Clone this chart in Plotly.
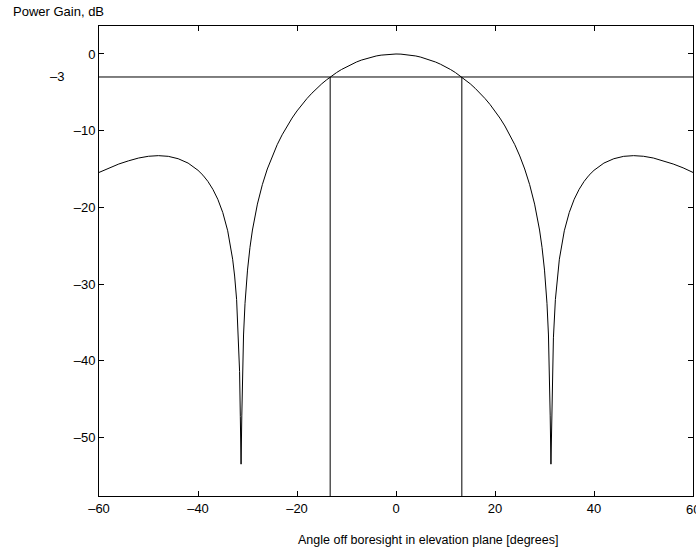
import plotly.graph_objects as go

# Half-pattern (angle >= 0), mirrored for negative angles
angle_pos = [0, 1, 2, 3, 4, 5, 6, 7, 8, 9, 10, 11, 12, 13.3, 14, 15, 16, 17, 18, 19, 20,
             21, 22, 23, 24, 25, 26, 27, 28, 29, 29.5, 30, 30.5, 30.8, 31.0, 31.15, 31.3,
             31.45, 31.6, 31.8, 32.2, 32.6, 33, 34, 35, 36, 37, 38, 39, 40, 42, 44, 46,
             48, 50, 52, 54, 56, 58, 60]
gain_pos = [0.0, -0.02, -0.07, -0.15, -0.26, -0.41, -0.59, -0.80, -1.05, -1.34, -1.66,
            -2.02, -2.42, -3.01, -3.36, -3.89, -4.48, -5.12, -5.82, -6.59, -7.43,
            -8.36, -9.39, -10.54, -11.83, -13.30, -15.00, -17.04, -19.58, -22.96, -25.22,
            -28.19, -32.52, -36.65, -41.1, -47.2, -53.5, -47.3, -41.4, -37.02, -32.03,
            -28.96, -26.77, -23.06, -20.67, -18.95, -17.65, -16.62, -15.81, -15.17,
            -14.23, -13.66, -13.35, -13.26, -13.34, -13.57, -13.93, -14.35, -14.85, -15.45]

angle = [-a for a in reversed(angle_pos[1:])] + angle_pos
gain = list(reversed(gain_pos[1:])) + gain_pos

half_power_db = -3
beamwidth_edges = [-13.3, 13.3]

x_ticks = [-60, -40, -20, 0, 20, 40, 60]
y_ticks = [-50, -40, -30, -20, -10, 0]
x_range = [-60, 60]
y_range = [-57.65, 3.65]

font_family = "Liberation Sans, Arial, Helvetica, sans-serif"
fs = 13


def lab(v):
    return str(v).replace("-", "\u2013")


fig = go.Figure()
fig.add_trace(go.Scatter(x=angle, y=gain, mode="lines",
                         line=dict(color="black", width=1), showlegend=False,
                         hoverinfo="skip"))
fig.add_trace(go.Scatter(x=x_range, y=[half_power_db, half_power_db], mode="lines",
                         line=dict(color="black", width=1), showlegend=False,
                         hoverinfo="skip"))
for e in beamwidth_edges:
    fig.add_trace(go.Scatter(x=[e, e], y=[half_power_db, y_range[0]], mode="lines",
                             line=dict(color="black", width=1), showlegend=False,
                             hoverinfo="skip"))

axis_common = dict(showline=True, linecolor="black", linewidth=1, mirror="ticks",
                   ticks="inside", ticklen=5, tickwidth=1, tickcolor="black",
                   showgrid=False, zeroline=False,
                   tickfont=dict(family=font_family, size=fs, color="black"))

fig.update_xaxes(range=x_range, tickvals=x_ticks[:-1],
                 ticktext=[lab(v) for v in x_ticks[:-1]],
                 **axis_common)
fig.update_yaxes(range=y_range, tickvals=y_ticks,
                 ticktext=[lab(v) for v in y_ticks],
                 **axis_common)

# last x tick label (clipped by the window edge, as in the reference)
fig.add_annotation(text=lab(x_ticks[-1]), x=x_ticks[-1], xref="x", y=0, yref="paper",
                   xanchor="center", yanchor="top", yshift=-4, showarrow=False,
                   font=dict(family=font_family, size=fs, color="black"))

# x-axis title (offset to the right, as in the reference)
fig.add_annotation(text="Angle off boresight in elevation plane [degrees]",
                   x=(428 - 99) / 594, xref="paper", y=-44 / 470, yref="paper",
                   xanchor="center", yanchor="middle", showarrow=False,
                   font=dict(family=font_family, size=12.5, color="black"))

# -3 dB marker label
fig.add_annotation(text=lab(half_power_db), x=-33 / 594, xref="paper",
                   y=half_power_db, yref="y", xanchor="right", yanchor="middle",
                   showarrow=False,
                   font=dict(family=font_family, size=fs, color="black"))

fig.add_annotation(text="Power Gain, dB", xref="paper", yref="paper",
                   x=-88 / 594, y=1 + 15 / 470, xanchor="left", yanchor="middle",
                   showarrow=False,
                   font=dict(family=font_family, size=fs, color="black"))

fig.update_layout(width=696, height=554,
                  margin=dict(l=99, r=3, t=26, b=58),
                  paper_bgcolor="white", plot_bgcolor="white")

fig.write_html("out.html")
